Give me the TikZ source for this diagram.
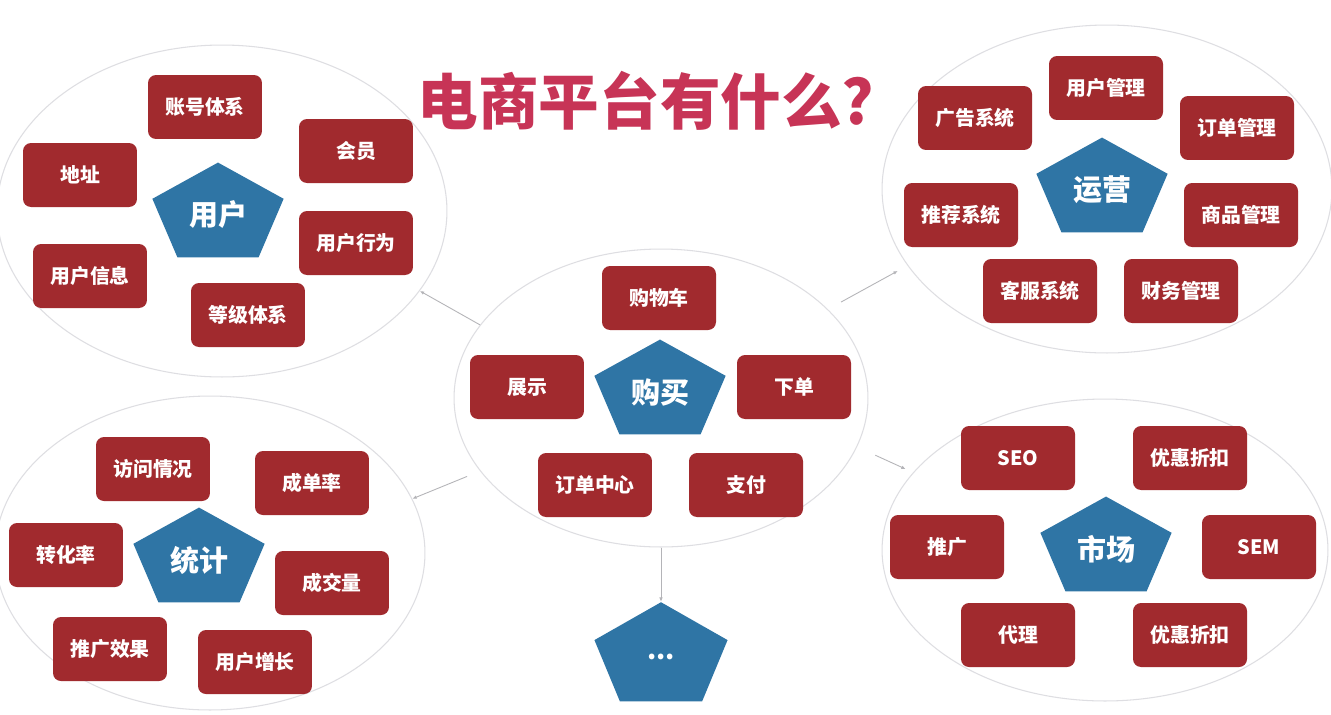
\documentclass[tikz,border=0pt]{standalone}
\usepackage{fontspec}
\setmainfont{Noto Sans CJK SC}
\usetikzlibrary{arrows.meta,shapes.geometric}
\definecolor{boxred}{HTML}{A12A2E}
\definecolor{pentblue}{HTML}{2F75A5}
\definecolor{titlered}{HTML}{C73456}
\definecolor{ringgray}{HTML}{DEDEE2}
\definecolor{linkgray}{HTML}{B4B4B8}

\begin{document}
\begin{tikzpicture}[x=.02cm,y=-.02cm,>=Latex,
font=\fontsize{11.3}{13}\selectfont,
ring/.style={ellipse,draw=ringgray,line width=.6pt,inner sep=0pt},
item/.style={fill=boxred,rounded corners=.16cm,text=white,font=\fontsize{11.3}{13}\selectfont\bfseries,minimum width=2.28cm,minimum height=1.28cm,inner sep=0pt},
pent/.style={regular polygon,regular polygon sides=5,fill=pentblue,minimum size=2.76cm,inner sep=0pt,yscale=.76,transform shape},
ptxt/.style={text=white,font=\fontsize{16.5}{18}\selectfont\bfseries,inner sep=0pt},
arr/.style={->,line width=.5pt,draw=linkgray,>={Latex[length=2.5pt,width=2pt]}}]
\fill[white] (0,0) rectangle (1331,714);
\useasboundingbox (0,0) rectangle (1331,714);
\node[ring,minimum width=9cm,minimum height=6.64cm] (ugrp) at (222,211) {};
\node[ring,minimum width=8.28cm,minimum height=5.96cm] (bgrp) at (661,398) {};
\node[ring,minimum width=9cm,minimum height=6.56cm] (ogrp) at (1107,189) {};
\node[ring,minimum width=8.6cm,minimum height=6.28cm] (sgrp) at (210,553) {};
\node[ring,minimum width=8.92cm,minimum height=6.04cm] (mgrp) at (1105,550) {};
\node[font=\fontsize{34.5}{38}\selectfont\bfseries,text=titlered] (title) at (646,101) {电商平台有什么?};
% user
\node[pent] (user) at (218,215) {};
\node[ptxt] (user-t) at (user) {用户};
\node[item] (acct) at (205,107) {账号体系};
\node[item] (member) at (356,151) {会员};
\node[item] (addr) at (80,175) {地址};
\node[item] (behav) at (356,243) {用户行为};
\node[item] (info) at (90,276) {用户信息};
\node[item] (level) at (248,315) {等级体系};
% buy
\node[pent] (buy) at (660,392) {};
\node[ptxt] (buy-t) at (buy) {购买};
\node[item] (cart) at (659,298) {购物车};
\node[item] (show) at (527,387) {展示};
\node[item] (order) at (794,387) {下单};
\node[item] (ocenter) at (595,485) {订单中心};
\node[item] (pay) at (746,485) {支付};
% operation
\node[pent] (ops) at (1102,190) {};
\node[ptxt] (ops-t) at (ops) {运营};
\node[item] (umgmt) at (1106,88) {用户管理};
\node[item] (ads) at (975,118) {广告系统};
\node[item] (omgmt) at (1237,128) {订单管理};
\node[item] (recom) at (961,215) {推荐系统};
\node[item] (gmgmt) at (1241,215) {商品管理};
\node[item] (cs) at (1040,291) {客服系统};
\node[item] (fin) at (1181,291) {财务管理};
% statistics
\node[pent] (stat) at (199,560) {};
\node[ptxt] (stat-t) at (stat) {统计};
\node[item] (visit) at (153,469) {访问情况};
\node[item] (rate) at (312,483) {成单率};
\node[item] (conv) at (66,555) {转化率};
\node[item] (volume) at (332,583) {成交量};
\node[item] (promo) at (110,649) {推广效果};
\node[item] (growth) at (255,662) {用户增长};
% market
\node[pent] (mkt) at (1106,549) {};
\node[ptxt] (mkt-t) at (mkt) {市场};
\node[item] (seo) at (1018,458) {SEO};
\node[item] (disc) at (1190,458) {优惠折扣};
\node[item] (ext) at (947,547) {推广};
\node[item] (sem) at (1259,547) {SEM};
\node[item] (agent) at (1018,635) {代理};
\node[item] (disc2) at (1190,635) {优惠折扣};
% more
\node[pent,minimum size=2.8cm,yscale=1.03] (dots) at (661,657) {};
\node[ptxt,font=\fontsize{15}{16}\selectfont\bfseries] (dots-t) at (dots) {...};
\draw[arr] (bgrp.158) -- (ugrp.-22);
\draw[arr,shorten <=.3cm,shorten >=.22cm] (bgrp.28) -- (ogrp.201);
\draw[arr,shorten <=.28cm] (bgrp.202) -- (sgrp.15.5);
\draw[arr,shorten <=.4cm,shorten >=.16cm] (bgrp.-14) -- (mgrp.158);
\draw[arr] (bgrp.south) -- (dots.corner 1);
\end{tikzpicture}
\end{document}
